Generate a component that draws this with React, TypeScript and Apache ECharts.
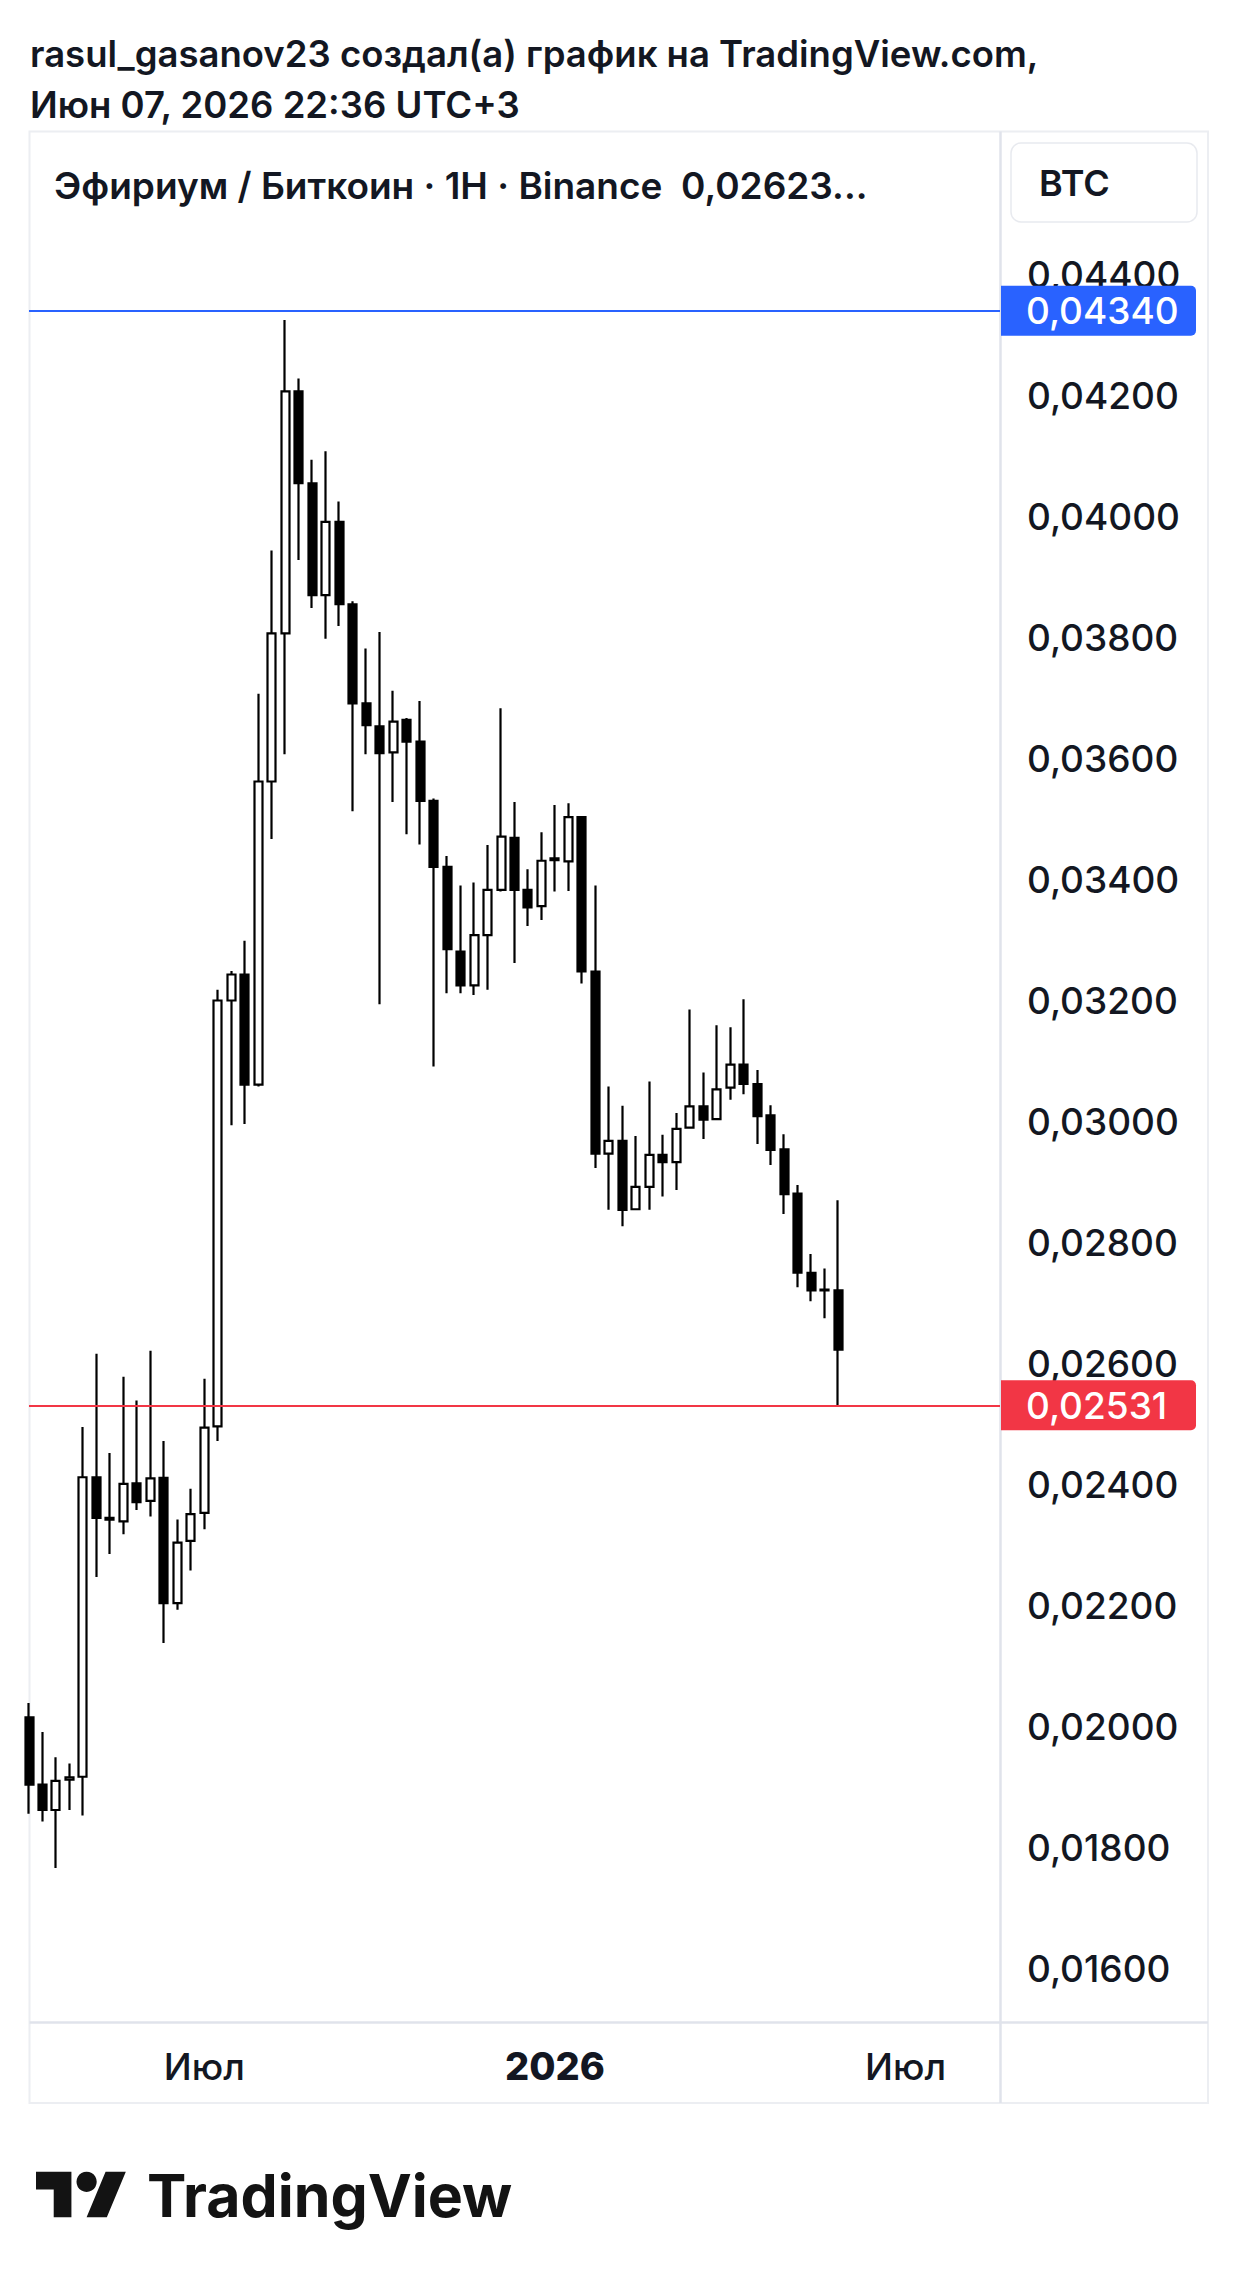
import React, { useEffect, useRef } from 'react';
import * as echarts from 'echarts';

// ---------- data ----------
const startWeekUTC = Date.UTC(2025, 3, 7); // first visible weekly bar
const weekCount = 73; // visible bar slots on the time axis

const opens = [
  0.02015, 0.01904, 0.01862, 0.01912, 0.01917, 0.02412, 0.02345, 0.02339, 0.02402, 0.02373,
  0.02411, 0.02204, 0.02307, 0.02353, 0.02496, 0.032, 0.03243, 0.03061, 0.03562, 0.03807,
  0.04207, 0.04055, 0.0387, 0.03991, 0.03855, 0.03691, 0.03653, 0.0361, 0.03664, 0.03628,
  0.0353, 0.03421, 0.03281, 0.03225, 0.03308, 0.03383, 0.03469, 0.03383, 0.03356, 0.03432,
  0.0343, 0.03503, 0.03248, 0.02947, 0.02968, 0.02855, 0.02892, 0.02945, 0.02933, 0.0299,
  0.03025, 0.03004, 0.03056, 0.03094, 0.03062, 0.0301, 0.02954, 0.02881, 0.0275, 0.02722,
  0.02721,
];
const closes = [
  0.01904, 0.01862, 0.0191, 0.01916, 0.02412, 0.02345, 0.02342, 0.02401, 0.02371, 0.0241,
  0.02204, 0.02304, 0.02351, 0.02494, 0.032, 0.03243, 0.03061, 0.03562, 0.03807, 0.04207,
  0.04055, 0.0387, 0.03991, 0.03855, 0.03691, 0.03655, 0.03609, 0.03661, 0.03628, 0.0353,
  0.03421, 0.03285, 0.03225, 0.03308, 0.03383, 0.03471, 0.03383, 0.03354, 0.03431, 0.03435,
  0.03503, 0.03248, 0.02947, 0.02968, 0.02854, 0.02892, 0.02945, 0.02933, 0.02988, 0.03025,
  0.03003, 0.03053, 0.03094, 0.03062, 0.03009, 0.02953, 0.0288, 0.0275, 0.02721, 0.02721,
  0.02623,
];
const lows = [
  0.01856, 0.01843, 0.01766, 0.01862, 0.01853, 0.02247, 0.02285, 0.02318, 0.02358, 0.02347,
  0.02138, 0.02193, 0.02258, 0.02326, 0.02472, 0.02994, 0.02996, 0.03058, 0.03467, 0.03607,
  0.03928, 0.03849, 0.03798, 0.03819, 0.03513, 0.03607, 0.03194, 0.03528, 0.03475, 0.03458,
  0.03091, 0.03212, 0.03212, 0.03209, 0.03218, 0.0338, 0.03262, 0.03323, 0.03333, 0.0338,
  0.03381, 0.03228, 0.02923, 0.02854, 0.02827, 0.02855, 0.02854, 0.02876, 0.02887, 0.02988,
  0.02971, 0.03003, 0.03036, 0.03045, 0.02963, 0.02928, 0.02847, 0.02726, 0.02703, 0.02675,
  0.02531,
];
const highs = [
  0.02039, 0.01991, 0.01949, 0.01939, 0.02495, 0.02616, 0.02452, 0.02578, 0.02539, 0.02621,
  0.02472, 0.02342, 0.02393, 0.02575, 0.03218, 0.03249, 0.03299, 0.03707, 0.03944, 0.04325,
  0.04228, 0.04094, 0.04108, 0.04025, 0.0386, 0.03782, 0.03809, 0.03712, 0.03667, 0.03695,
  0.03534, 0.03439, 0.0339, 0.03395, 0.03457, 0.03683, 0.03528, 0.03417, 0.03478, 0.03523,
  0.03526, 0.03504, 0.0339, 0.03058, 0.03026, 0.02976, 0.03066, 0.02978, 0.03014, 0.03185,
  0.03081, 0.03159, 0.03156, 0.03202, 0.03085, 0.03027, 0.02979, 0.02895, 0.02781, 0.02757,
  0.0287,
];

const yTicks = [
  0.016, 0.018, 0.02, 0.022, 0.024, 0.026, 0.028, 0.03, 0.032, 0.034, 0.036, 0.038, 0.04,
  0.042, 0.044,
];
const yMin = 0.015116;
const yMax = 0.046364;

const xTickDates = ['2025-07-07', '2026-01-05', '2026-07-06'];
const xTickLabels = ['Июл', '2026', 'Июл'];

const highLineValue = 0.0434;
const lowLineValue = 0.02531;

const titleLine1 = 'rasul_gasanov23 создал(а) график на TradingView.com,';
const titleLine2 = 'Июн 07, 2026 22:36 UTC+3';
const legendText = 'Эфириум / Биткоин · 1H · Binance  0,02623...';
const unitText = 'BTC';
const brandText = 'TradingView';

const TV_LOGO_PATH = 'M14 22H7V11H0V4h14v18zM28 22h-8l7.5-18h8L28 22z';

// ---------- helpers ----------
const FONT = 'Inter, "Noto Sans", sans-serif';
const INK = '#131722';

function weekDates(): string[] {
  const out: string[] = [];
  for (let i = 0; i < weekCount; i++) {
    out.push(new Date(startWeekUTC + i * 7 * 86400000).toISOString().slice(0, 10));
  }
  return out;
}

const fmtPrice = (v: number) => Number(v).toFixed(5).replace('.', ',');

let logoRegistered = false;

export default function App() {
  const ref = useRef<HTMLDivElement>(null);

  useEffect(() => {
    if (!ref.current) return;
    if (!logoRegistered) {
      echarts.graphic.registerShape('tvlogo', echarts.graphic.extendPath(TV_LOGO_PATH, {}) as any);
      logoRegistered = true;
    }
    const chart = echarts.init(ref.current, null, { renderer: 'svg' });

    const weeks = weekDates();
    const ohlc = opens.map((o, i) => [o, closes[i], lows[i], highs[i]]);

    const priceLabel = (bg: string) => ({
      show: true,
      position: 'end',
      distance: 1,
      formatter: (p: any) => fmtPrice(p.value),
      color: '#ffffff',
      backgroundColor: bg,
      fontFamily: FONT,
      fontSize: 37,
      fontWeight: 500,
      lineHeight: 37,
      width: 151,
      align: 'left',
      padding: [7, 19, 6, 25],
      borderRadius: [0, 5, 5, 0],
    });

    const logoScale = 2.53;
    const logoX = 36;
    const logoY = 2161.6;

    chart.setOption({
      animation: false,
      backgroundColor: '#ffffff',
      grid: {
        left: 29,
        top: 131.5,
        width: 971,
        height: 1890.5,
        containLabel: false,
        outerBoundsMode: 'none',
      },
      xAxis: {
        type: 'category',
        data: weeks,
        boundaryGap: false,
        axisLine: { show: false },
        axisTick: { show: false },
        splitLine: { show: false },
        axisLabel: {
          interval: (_i: number, v: string) => xTickDates.indexOf(v) >= 0,
          formatter: (v: string) => {
            const k = xTickDates.indexOf(v);
            const t = xTickLabels[k] ?? '';
            return /^\d+$/.test(t) ? `{y|${t}}` : `{m|${t}}`;
          },
          margin: 44,
          verticalAlign: 'middle',
          rich: {
            m: { fontFamily: FONT, fontSize: 37, fontWeight: 500, color: INK },
            y: { fontFamily: FONT, fontSize: 38, fontWeight: 800, color: INK },
          },
        },
      },
      yAxis: {
        type: 'value',
        position: 'right',
        min: yMin,
        max: yMax,
        splitLine: { show: false },
        axisLine: { show: false },
        axisTick: { show: false },
        axisLabel: {
          customValues: yTicks,
          formatter: (v: number) => fmtPrice(v),
          margin: 27,
          align: 'left',
          color: INK,
          fontFamily: FONT,
          fontSize: 37,
          fontWeight: 500,
        },
      },
      series: [
        {
          type: 'candlestick',
          data: ohlc,
          barWidth: 8.5,
          clip: true,
          itemStyle: {
            color: '#ffffff',
            color0: '#000000',
            borderColor: '#000000',
            borderColor0: '#000000',
            borderWidth: 2.2,
          },
        },
        {
          type: 'line',
          data: [],
          clip: false,
          silent: true,
          markLine: {
            symbol: ['none', 'none'],
            silent: true,
            animation: false,
            precision: 5,
            data: [
              {
                yAxis: highLineValue,
                lineStyle: { color: '#2962ff', width: 2, type: 'solid' },
                label: priceLabel('#2962ff'),
              },
              {
                yAxis: lowLineValue,
                lineStyle: { color: '#f23645', width: 2, type: 'solid' },
                label: priceLabel('#f23645'),
              },
            ],
          },
        },
      ],
      graphic: [
        {
          type: 'text',
          x: 30,
          y: 54,
          style: { text: titleLine1, fill: INK, fontFamily: FONT, fontSize: 36.5, fontWeight: 600, verticalAlign: 'middle' },
        },
        {
          type: 'text',
          x: 30,
          y: 105,
          style: { text: titleLine2, fill: INK, fontFamily: FONT, fontSize: 36.5, fontWeight: 600, verticalAlign: 'middle' },
        },
        {
          type: 'rect',
          shape: { x: 29.5, y: 131.5, width: 1178.5, height: 1971.5 },
          style: { fill: 'none', stroke: '#eceef2', lineWidth: 2 },
        },
        {
          type: 'line',
          shape: { x1: 1000.5, y1: 131.5, x2: 1000.5, y2: 2103 },
          style: { stroke: '#e0e3eb', lineWidth: 2.5 },
        },
        {
          type: 'line',
          shape: { x1: 29.5, y1: 2022.5, x2: 1208, y2: 2022.5 },
          style: { stroke: '#e0e3eb', lineWidth: 2.5 },
        },
        {
          type: 'text',
          x: 54,
          y: 185,
          style: { text: legendText, fill: INK, fontFamily: FONT, fontSize: 37, fontWeight: 600, verticalAlign: 'middle' },
        },
        {
          type: 'rect',
          shape: { x: 1011, y: 143, width: 186, height: 79, r: 10 },
          style: { fill: '#ffffff', stroke: '#e8eaef', lineWidth: 1.5 },
        },
        {
          type: 'text',
          x: 1039,
          y: 183,
          style: { text: unitText, fill: INK, fontFamily: FONT, fontSize: 36, fontWeight: 600, verticalAlign: 'middle' },
        },
        {
          type: 'tvlogo',
          x: logoX,
          y: logoY,
          scaleX: logoScale,
          scaleY: logoScale,
          style: { fill: '#131313' },
        },
        {
          type: 'circle',
          shape: { cx: logoX + 20 * logoScale, cy: logoY + 8 * logoScale, r: 4 * logoScale },
          style: { fill: '#131313' },
        },
        {
          type: 'text',
          x: 147,
          y: 2195,
          style: { text: brandText, fill: '#131313', fontFamily: FONT, fontSize: 59, fontWeight: 700, verticalAlign: 'middle' },
        },
      ],
    });

    return () => {
      chart.dispose();
    };
  }, []);

  return (
    <div
      ref={ref}
      style={{ position: 'absolute', left: 0, top: 0, width: 1239, height: 2286, background: '#ffffff' }}
    />
  );
}
